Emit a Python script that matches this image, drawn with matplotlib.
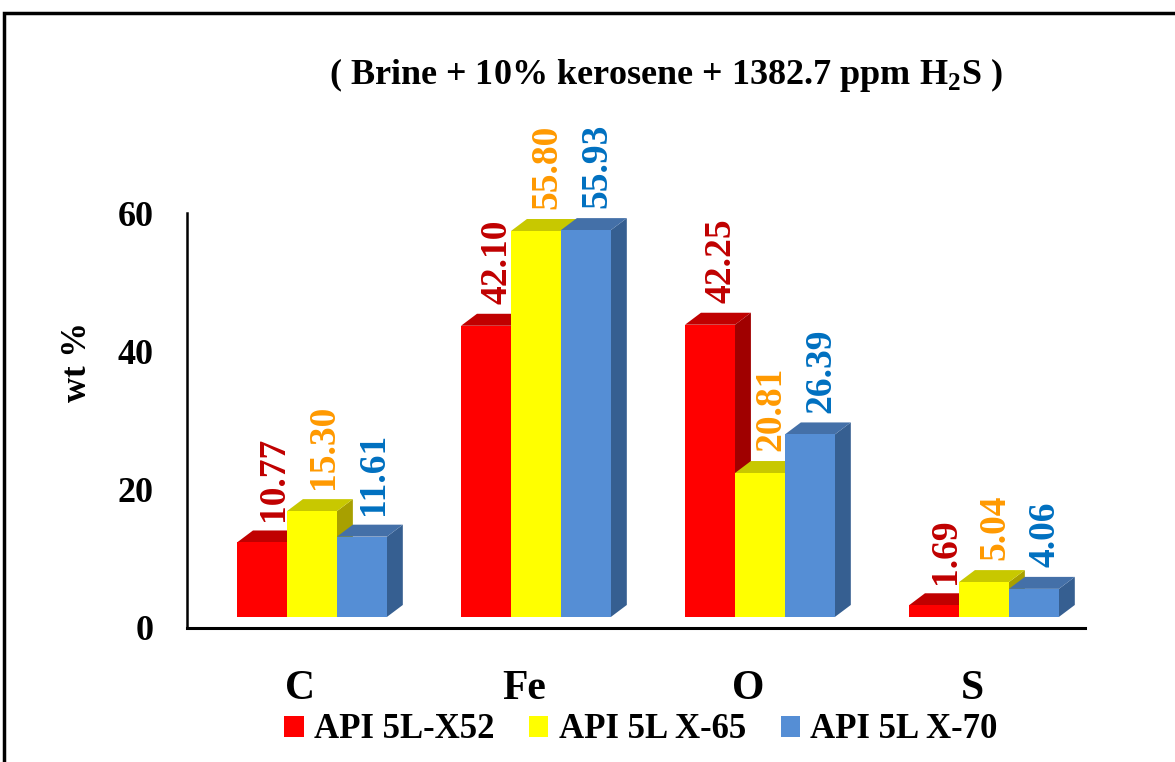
import matplotlib.pyplot as plt
from matplotlib.patches import Polygon, Rectangle, Patch
from matplotlib.transforms import ScaledTranslation

plt.rcParams['font.family'] = ['Liberation Serif', 'DejaVu Serif']
plt.rcParams['font.weight'] = 'bold'
plt.rcParams['mathtext.fontset'] = 'custom'
plt.rcParams['mathtext.rm'] = 'Liberation Serif'
plt.rcParams['mathtext.bf'] = 'Liberation Serif:bold'

elements = ["C", "Fe", "O", "S"]
series = ["API 5L-X52", "API 5L X-65", "API 5L X-70"]
x52 = [10.77, 42.10, 42.25, 1.69]
x65 = [15.30, 55.80, 20.81, 5.04]
x70 = [11.61, 55.93, 26.39, 4.06]
yticks = [0, 20, 40, 60]

front = ["#FF0000", "#FFFF00", "#558ED5"]
top = ["#C00000", "#C8C800", "#4470A8"]
side = ["#A00000", "#A8A000", "#365F91"]
label_col = ["#C00000", "#FF9900", "#0070C0"]

W, H = 1175, 762
fig = plt.figure(figsize=(W / 100, H / 100), dpi=100)

# outer frame (partly cut off, like the reference)
fig.patches.append(Rectangle((4 / W, -0.2), 1.3, 1 - 13 / H + 0.2, transform=fig.transFigure,
                             fill=False, edgecolor="black", linewidth=2.5))

ax = fig.add_axes([187 / W, 1 - 628 / H, (1085 - 187) / W, (628 - 213) / H])
ax.set_xlim(-0.558, 3.451)
ax.set_ylim(0, 60)

bw = 0.223       # bar width
base = 1.6       # front face floor
dx, dy = 0.071, 1.73  # depth offsets

for s, vals in enumerate([x52, x65, x70]):
    for i, v in enumerate(vals):
        x0 = i + (s - 1) * bw - bw / 2
        x1 = x0 + bw
        y0, y1 = base, base + v
        ax.add_patch(Polygon([(x1, y0), (x1 + dx, y0 + dy), (x1 + dx, y1 + dy), (x1, y1)],
                             closed=True, facecolor=side[s], edgecolor="none", zorder=2 + s))
        ax.add_patch(Polygon([(x0, y1), (x1, y1), (x1 + dx, y1 + dy), (x0 + dx, y1 + dy)],
                             closed=True, facecolor=top[s], edgecolor="none", zorder=2 + s))
        ax.add_patch(Rectangle((x0, y0), bw, v, facecolor=front[s], edgecolor="none", zorder=2 + s))
        ax.text((x0 + x1) / 2 + 0.05, y1 + dy + 1.4, f"{v:.2f}", rotation=90,
                ha="center", va="bottom", color=label_col[s], fontsize=27,
                fontweight="bold", zorder=10, clip_on=False)

for sp in ["top", "right"]:
    ax.spines[sp].set_visible(False)
ax.spines["left"].set_linewidth(1.8)
ax.spines["bottom"].set_linewidth(2.2)
ax.set_yticks(yticks)
ax.set_yticklabels([str(t) for t in yticks], fontsize=26, fontweight="bold")
ax.tick_params(axis="y", length=0, pad=24)
ax.set_xticks(range(len(elements)))
ax.set_xticklabels(elements, fontsize=30, fontweight="bold")
ax.tick_params(axis="x", length=0, pad=30)
shift = ScaledTranslation(-12 / 100, 0, fig.dpi_scale_trans)
for lab in ax.get_xticklabels():
    lab.set_transform(lab.get_transform() + shift)
ax.set_ylabel("wt %", fontsize=25, fontweight="bold")
ax.yaxis.set_label_coords(-0.104, 0.64)

fig.text(0.567, 1 - 75 / H, r"( Brine + 10% kerosene + 1382.7 ppm H$_\mathbf{2}$S )",
         ha="center", va="center", fontsize=26, fontweight="bold")

handles = [Patch(facecolor=c, edgecolor="none") for c in front]
fig.legend(handles, series, loc="center", bbox_to_anchor=(641 / W, 1 - 730 / H), ncol=3,
           frameon=False, handlelength=0.55, handleheight=0.55,
           handletextpad=0.3, columnspacing=1.0, prop={"weight": "bold", "size": 25})

fig.savefig("out.png", dpi=100)
